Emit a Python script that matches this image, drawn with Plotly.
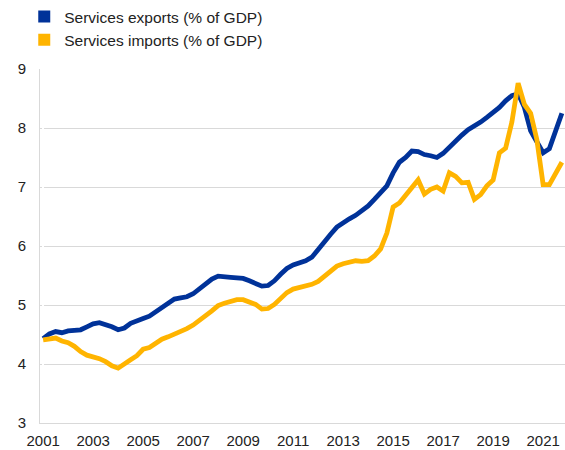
import plotly.graph_objects as go

# quarterly data, 2001 Q1 - 2021 Q4
quarters = [f"{y} Q{q}" for y in range(2001, 2022) for q in range(1, 5)]
tick_years = [str(y) for y in range(2001, 2022, 2)]

exports = [
    4.43, 4.51, 4.55, 4.53, 4.56, 4.57, 4.58, 4.63, 4.68, 4.70, 4.67, 4.63,
    4.58, 4.61, 4.69, 4.72, 4.77, 4.81, 4.88, 4.96, 5.04, 5.10, 5.12, 5.14,
    5.19, 5.27, 5.36, 5.44, 5.49, 5.49, 5.47, 5.46, 5.45, 5.41, 5.37, 5.32,
    5.33, 5.41, 5.52, 5.62, 5.68, 5.71, 5.75, 5.81, 5.95, 6.07, 6.20, 6.32,
    6.40, 6.46, 6.52, 6.59, 6.68, 6.79, 6.90, 7.02, 7.24, 7.42, 7.50, 7.61,
    7.60, 7.55, 7.53, 7.50, 7.57, 7.68, 7.79, 7.88, 7.97, 8.03, 8.10, 8.18,
    8.26, 8.35, 8.46, 8.55, 8.58, 8.35, 7.95, 7.75, 7.58, 7.65, 7.95, 8.25,
]

imports = [
    4.41, 4.43, 4.44, 4.39, 4.36, 4.30, 4.21, 4.15, 4.13, 4.09, 4.04, 3.97,
    3.93, 3.99, 4.07, 4.14, 4.25, 4.28, 4.36, 4.42, 4.46, 4.50, 4.54, 4.60,
    4.66, 4.73, 4.82, 4.90, 4.99, 5.03, 5.06, 5.09, 5.09, 5.06, 5.01, 4.93,
    4.94, 5.01, 5.12, 5.21, 5.27, 5.29, 5.31, 5.35, 5.40, 5.48, 5.58, 5.66,
    5.70, 5.73, 5.75, 5.74, 5.75, 5.83, 5.95, 6.22, 6.66, 6.73, 6.86, 7.02,
    7.12, 6.88, 6.96, 7.00, 6.93, 7.24, 7.18, 7.07, 7.08, 6.79, 6.87, 7.02,
    7.12, 7.58, 7.66, 8.10, 8.76, 8.40, 8.25, 7.80, 7.04, 7.04, 7.25, 7.42,
]

BLUE = "#003299"
YELLOW = "#FFB400"
x = list(range(len(quarters)))

fig = go.Figure()
fig.add_trace(go.Scatter(x=x, y=exports, mode="lines", line=dict(color=BLUE, width=4.8),
                         showlegend=False, text=quarters))
fig.add_trace(go.Scatter(x=x, y=imports, mode="lines", line=dict(color=YELLOW, width=4.8),
                         showlegend=False, text=quarters))
# legend entries drawn as squares
fig.add_trace(go.Scatter(x=[None], y=[None], mode="markers", name="Services exports (% of GDP)",
                         marker=dict(symbol="square", size=12, color=BLUE)))
fig.add_trace(go.Scatter(x=[None], y=[None], mode="markers", name="Services imports (% of GDP)",
                         marker=dict(symbol="square", size=12, color=YELLOW)))

fig.update_layout(
    width=565, height=450,
    margin=dict(l=40, r=0, t=69, b=27),
    paper_bgcolor="white", plot_bgcolor="white",
    font=dict(family="Liberation Sans, Arial, sans-serif", size=14, color="#222222"),
    legend=dict(x=-0.03, y=1.0, xanchor="left", yanchor="top", yref="container",
                bgcolor="rgba(0,0,0,0)", font=dict(size=15.5), tracegroupgap=0),
    xaxis=dict(range=[-0.5, len(quarters) - 0.5], tickvals=x[::8], ticktext=tick_years,
               showgrid=False, showline=True, linecolor="#d9d9d9", linewidth=1,
               ticks="", ticklabelstandoff=4, tickfont=dict(size=15)),
    yaxis=dict(range=[3, 9], dtick=1, showgrid=True, gridcolor="#d9d9d9", gridwidth=1,
               showline=True, linecolor="#d9d9d9", linewidth=1, zeroline=False,
               ticks="", ticklabelstandoff=10, tickfont=dict(size=15)),
)

fig.write_html("out.html", config={"displayModeBar": False},
               post_script="document.body.style.margin='0';")
